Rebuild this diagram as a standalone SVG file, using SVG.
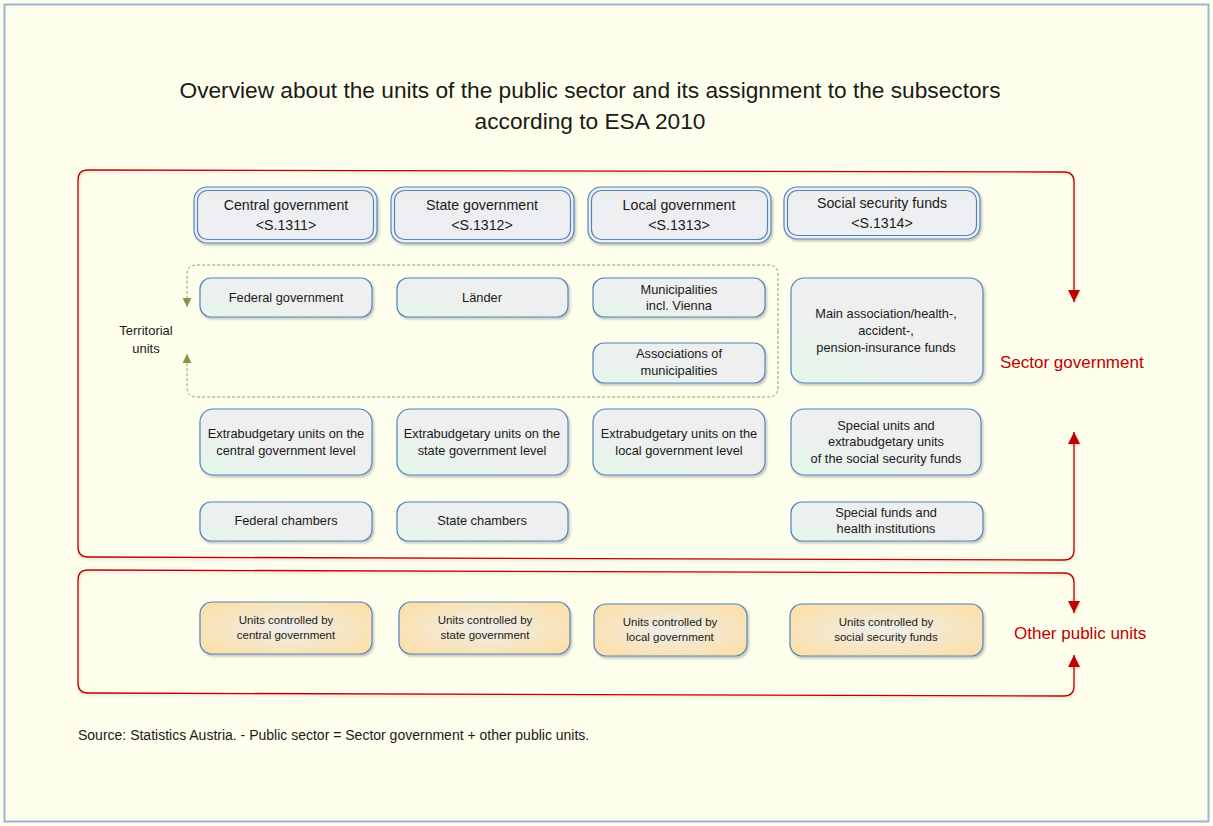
<svg xmlns="http://www.w3.org/2000/svg" width="1213" height="826" viewBox="0 0 1213 826">
<style>
text{font-family:"Liberation Sans",Arial,sans-serif;fill:#1a1a1a;text-anchor:middle}
.n{fill:url(#gb);stroke:#5583BE;stroke-width:1.2;filter:url(#sh)}
.h{fill:url(#gh);stroke:#5583BE;stroke-width:1.2}
.hi{fill:none;stroke:#5583BE;stroke-width:1.2}
.o{fill:url(#go);stroke:#5583BE;stroke-width:1.2;filter:url(#sh)}
.t{font-size:12.8px}
.th{font-size:14.2px}
.to{font-size:11.5px}
.red{fill:none;stroke:#C00000;stroke-width:1.3;filter:url(#sh2)}
.grn{fill:none;stroke:#8DA355;stroke-width:1;stroke-dasharray:3 2}
.lab{fill:#C00000;text-anchor:start;font-size:17px}
</style>
<defs>
<linearGradient id="gb" x1="0" y1="1" x2="0.7" y2="0.2">
<stop offset="0" stop-color="#E3F7EA"/><stop offset="0.6" stop-color="#EEEFEF"/><stop offset="1" stop-color="#EFEFEF"/>
</linearGradient>
<linearGradient id="gh" x1="0" y1="0" x2="0" y2="1">
<stop offset="0" stop-color="#EDEEF0"/><stop offset="1" stop-color="#EEEFF2"/>
</linearGradient>
<radialGradient id="go" cx="0.5" cy="0.5" r="0.6">
<stop offset="0" stop-color="#EEEEEC"/><stop offset="1" stop-color="#FCE0AA"/>
</radialGradient>
<filter id="sh" x="-10%" y="-10%" width="120%" height="130%">
<feDropShadow dx="1.5" dy="2" stdDeviation="1.2" flood-color="#000" flood-opacity="0.22"/>
</filter>
<filter id="sh2" x="-5%" y="-5%" width="110%" height="110%">
<feDropShadow dx="1" dy="1.5" stdDeviation="1" flood-color="#000" flood-opacity="0.15"/>
</filter>
<marker id="ar" markerUnits="userSpaceOnUse" markerWidth="12" markerHeight="12" refX="10" refY="5" orient="auto" viewBox="0 0 10 10">
<path d="M0,0 L10,5 L0,10 z" fill="#C00000"/>
</marker>
<marker id="ag" markerUnits="userSpaceOnUse" markerWidth="9" markerHeight="9" refX="10" refY="5" orient="auto" viewBox="0 0 10 10">
<path d="M0,0 L10,5 L0,10 z" fill="#7F9A45"/>
</marker>
</defs>
<rect x="0" y="0" width="1213" height="826" fill="#FEFEEC"/>
<rect x="4.5" y="4.5" width="1204" height="817" fill="none" stroke="#9BB5DA" stroke-width="2"/>
<text x="590" y="98" style="font-size:22.7px">Overview about the units of the public sector and its assignment to the subsectors</text>
<text x="590" y="129" style="font-size:22.7px">according to ESA 2010</text>

<g id="connectors">
<path class="red" d="M78 364 V180 Q78 170 88 170 L1064 172 Q1074 172 1074 182 V302" marker-end="url(#ar)"/>
<path class="red" d="M78 364 V547 Q78 557 88 557 L1064 560 Q1074 560 1074 550 V432" marker-end="url(#ar)"/>
<path class="red" d="M78 632 V580 Q78 570 88 570 L1064 573 Q1074 573 1074 583 V613" marker-end="url(#ar)"/>
<path class="red" d="M78 632 V683 Q78 693 88 693 L1064 696 Q1074 696 1074 686 V655" marker-end="url(#ar)"/>
<path class="grn" d="M778 331 V275 Q778 265 768 265 H197 Q187 265 187 275 V307" marker-end="url(#ag)"/>
<path class="grn" d="M778 331 V387 Q778 397 768 397 H197 Q187 397 187 387 V354" marker-end="url(#ag)"/>
</g>

<g id="label-sector"><text class="lab" x="1000" y="368">Sector government</text></g>
<g id="label-other"><text class="lab" x="1014" y="639">Other public units</text></g>
<g id="label-territorial"><text x="146" y="335" style="font-size:13px">Territorial</text><text x="146" y="353" style="font-size:13px">units</text></g>

<g id="h-central"><rect class="h" x="194" y="187" width="183" height="56" rx="13" filter="url(#sh)"/><rect class="hi" x="197.5" y="190.5" width="176" height="49" rx="10"/>
<text class="th" x="286" y="210">Central government</text><text class="th" x="286" y="230">&lt;S.1311&gt;</text></g>
<g id="h-state"><rect class="h" x="391" y="187" width="183" height="56" rx="13" filter="url(#sh)"/><rect class="hi" x="394.5" y="190.5" width="176" height="49" rx="10"/>
<text class="th" x="482" y="210">State government</text><text class="th" x="482" y="230">&lt;S.1312&gt;</text></g>
<g id="h-local"><rect class="h" x="588" y="187" width="183" height="56" rx="13" filter="url(#sh)"/><rect class="hi" x="591.5" y="190.5" width="176" height="49" rx="10"/>
<text class="th" x="679" y="210">Local government</text><text class="th" x="679" y="230">&lt;S.1313&gt;</text></g>
<g id="h-social"><rect class="h" x="784" y="187" width="196" height="52" rx="13" filter="url(#sh)"/><rect class="hi" x="787.5" y="190.5" width="189" height="45" rx="10"/>
<text class="th" x="882" y="208">Social security funds</text><text class="th" x="882" y="228">&lt;S.1314&gt;</text></g>

<g id="n-federal"><rect class="n" x="200" y="278" width="172" height="39" rx="11"/><text class="t" x="286" y="302">Federal government</text></g>
<g id="n-laender"><rect class="n" x="397" y="278" width="171" height="39" rx="11"/><text class="t" x="482" y="302">Länder</text></g>
<g id="n-municipalities"><rect class="n" x="593" y="278" width="172" height="39" rx="11"/><text class="t" x="679" y="294">Municipalities</text><text class="t" x="679" y="310">incl. Vienna</text></g>
<g id="n-associations"><rect class="n" x="593" y="343" width="172" height="40" rx="11"/><text class="t" x="679" y="358">Associations of</text><text class="t" x="679" y="375">municipalities</text></g>
<g id="n-main"><rect class="n" x="791" y="278" width="192" height="105" rx="13"/><text class="t" x="886" y="318">Main association/health-,</text><text class="t" x="886" y="335">accident-,</text><text class="t" x="886" y="352">pension-insurance funds</text></g>

<g id="n-extra-central"><rect class="n" x="200" y="409" width="172" height="66" rx="13"/><text class="t" x="286" y="438">Extrabudgetary units on the</text><text class="t" x="286" y="455">central government level</text></g>
<g id="n-extra-state"><rect class="n" x="397" y="409" width="171" height="66" rx="13"/><text class="t" x="482" y="438">Extrabudgetary units on the</text><text class="t" x="482" y="455">state government level</text></g>
<g id="n-extra-local"><rect class="n" x="593" y="409" width="172" height="66" rx="13"/><text class="t" x="679" y="438">Extrabudgetary units on the</text><text class="t" x="679" y="455">local government level</text></g>
<g id="n-special-units"><rect class="n" x="791" y="409" width="190" height="66" rx="13"/><text class="t" x="886" y="430">Special units and</text><text class="t" x="886" y="446">extrabudgetary units</text><text class="t" x="886" y="463">of the social security funds</text></g>

<g id="n-fed-chambers"><rect class="n" x="200" y="502" width="172" height="39" rx="11"/><text class="t" x="286" y="525">Federal chambers</text></g>
<g id="n-state-chambers"><rect class="n" x="397" y="502" width="171" height="39" rx="11"/><text class="t" x="482" y="525">State chambers</text></g>
<g id="n-special-funds"><rect class="n" x="791" y="502" width="192" height="39" rx="11"/><text class="t" x="886" y="517">Special funds and</text><text class="t" x="886" y="533">health institutions</text></g>

<g id="o-central"><rect class="o" x="200" y="602" width="172" height="52" rx="12"/><text class="to" x="286" y="624">Units controlled by</text><text class="to" x="286" y="639">central government</text></g>
<g id="o-state"><rect class="o" x="399" y="602" width="171" height="52" rx="12"/><text class="to" x="485" y="624">Units controlled by</text><text class="to" x="485" y="639">state government</text></g>
<g id="o-local"><rect class="o" x="594" y="604" width="153" height="52" rx="12"/><text class="to" x="670" y="626">Units controlled by</text><text class="to" x="670" y="641">local government</text></g>
<g id="o-social"><rect class="o" x="790" y="604" width="193" height="52" rx="12"/><text class="to" x="886" y="626">Units controlled by</text><text class="to" x="886" y="641">social security funds</text></g>

<text x="78" y="740" style="font-size:14px;text-anchor:start">Source: Statistics Austria. - Public sector = Sector government + other public units.</text>
</svg>
